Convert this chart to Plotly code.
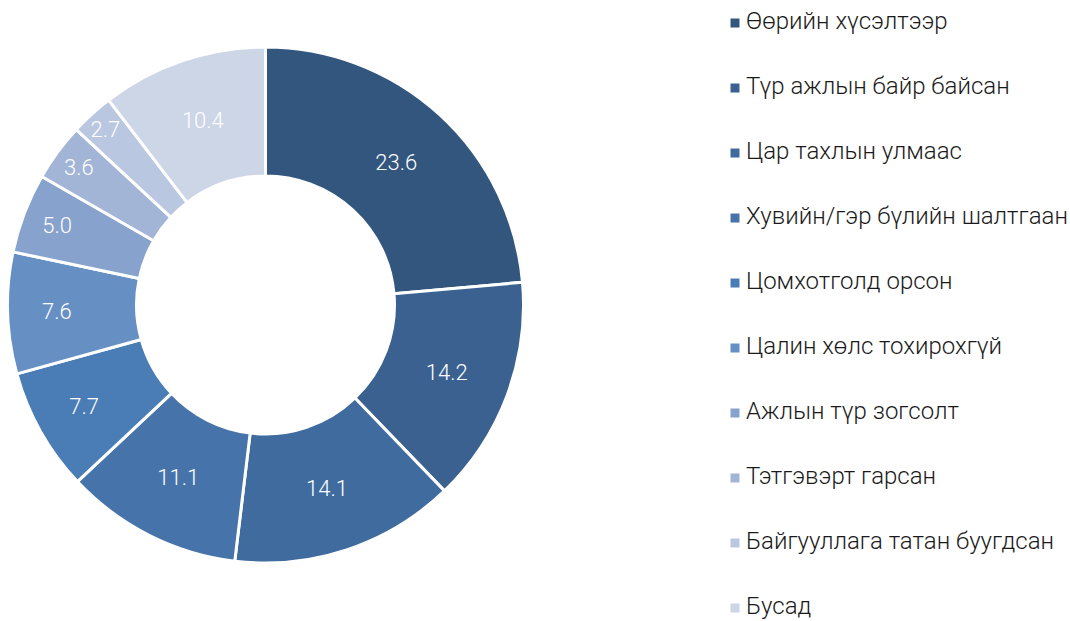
import plotly.graph_objects as go

categories = ["Өөрийн хүсэлтээр", "Түр ажлын байр байсан", "Цар тахлын улмаас",
              "Хувийн/гэр бүлийн шалтгаан", "Цомхотголд орсон", "Цалин хөлс тохирохгүй",
              "Ажлын түр зогсолт", "Тэтгэвэрт гарсан", "Байгууллага татан буугдсан", "Бусад"]
values = [23.6, 14.2, 14.1, 11.1, 7.7, 7.6, 5.0, 3.6, 2.7, 10.4]
colors = ["#33567F", "#3A6190", "#3F6B9F", "#4674AA", "#4A7DB5", "#668FC4",
          "#87A2CC", "#A2B5D6", "#BAC7E0", "#CDD6E7"]

fig = go.Figure()
fig.add_trace(go.Pie(
    labels=categories, values=values, hole=0.5, sort=False, direction="clockwise",
    rotation=0, marker=dict(colors=colors, line=dict(color="white", width=3)),
    texttemplate="%{value:.1f}", textposition="inside", insidetextorientation="horizontal",
    textfont=dict(family="Roboto", size=22, color="white", weight=300),
    showlegend=False, hoverinfo="label+value",
    domain=dict(x=[7/1070, 524/1070], y=[1-563/621, 1-47/621]),
))

# legend built as scatter on an invisible axis (one row per category)
rows = list(range(len(categories)))
fig.add_trace(go.Scatter(
    x=[735] * len(categories), y=rows, mode="markers",
    marker=dict(symbol="square", size=9, color=colors),
    showlegend=False, hoverinfo="skip",
))
fig.add_trace(go.Scatter(
    x=[746] * len(categories), y=rows, mode="text", text=categories,
    textposition="middle right",
    textfont=dict(family="Roboto", size=24, color="#1a1a1a", weight=300),
    showlegend=False, hoverinfo="skip",
))

fig.update_layout(
    width=1070, height=621, margin=dict(l=0, r=0, t=0, b=0),
    paper_bgcolor="white", plot_bgcolor="rgba(0,0,0,0)",
    xaxis=dict(visible=False, range=[0, 1070], domain=[0, 1], fixedrange=True),
    yaxis=dict(visible=False, range=[9.2, -0.354], domain=[0, 1], fixedrange=True),
)
fig.write_html("out.html", config={"displayModeBar": False},
               post_script="document.body.style.margin='0';")
